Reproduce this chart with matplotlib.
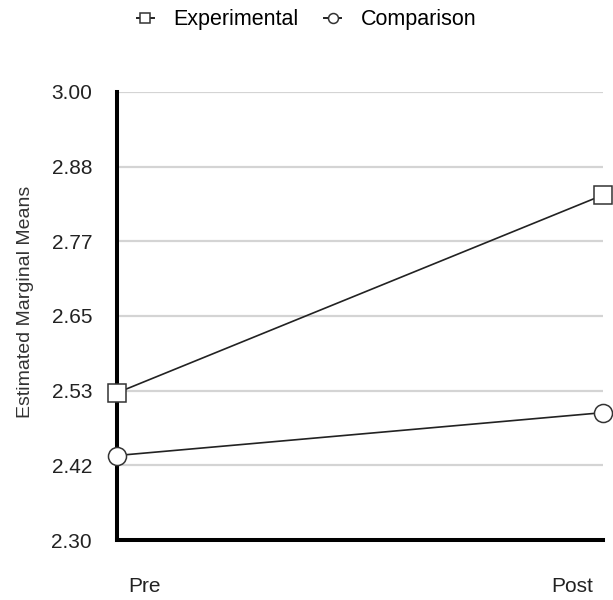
import matplotlib.pyplot as plt
import matplotlib.transforms as mtransforms

# data
time_labels = ['Pre', 'Post']
experimental = [2.53, 2.839]
comparison = [2.432, 2.499]
y_ticks = [2.30, 2.4167, 2.5333, 2.65, 2.7667, 2.8833, 3.00]

plt.rcParams['font.family'] = ['Liberation Sans', 'DejaVu Sans']

fig = plt.figure(figsize=(6.13, 6.00), dpi=100)
ax = fig.add_axes([0.1909, 0.1, 0.7928, 0.7467])

x = list(range(len(time_labels)))

ax.plot(x, experimental, color='#222222', lw=1.2, marker='s', markersize=12.5,
        markerfacecolor='white', markeredgecolor='#333333', markeredgewidth=1.1,
        clip_on=False, zorder=5, label='Experimental')
ax.plot(x, comparison, color='#222222', lw=1.2, marker='o', markersize=13,
        markerfacecolor='white', markeredgecolor='#333333', markeredgewidth=1.1,
        clip_on=False, zorder=5, label='Comparison')

ax.set_xlim(0, 1)
ax.set_ylim(2.30, 3.00)
ax.set_yticks(y_ticks)
ax.set_yticklabels([f'{v:.2f}' for v in y_ticks])
ax.set_xticks(x)
ax.set_xticklabels(time_labels)

# gridlines
ax.yaxis.grid(True, color='#d4d4d4', lw=1.6)
ax.set_axisbelow(True)

for s in ['top', 'right']:
    ax.spines[s].set_visible(False)
ax.spines['left'].set_linewidth(2.9)
ax.spines['bottom'].set_linewidth(2.9)
ax.spines['left'].set_zorder(4)

ax.tick_params(axis='both', length=0, labelsize=15, colors='#222222')
ax.tick_params(axis='y', pad=18)
ax.tick_params(axis='x', pad=27)

# x labels sit inside the axis ends
lbls = ax.get_xticklabels()
lbls[0].set_ha('left')
lbls[0].set_transform(lbls[0].get_transform() +
                      mtransforms.ScaledTranslation(0.11, 0, fig.dpi_scale_trans))
lbls[1].set_ha('right')
lbls[1].set_transform(lbls[1].get_transform() +
                      mtransforms.ScaledTranslation(-0.10, 0, fig.dpi_scale_trans))

ax.set_ylabel('Estimated Marginal Means', fontsize=14, color='#333333')
ax.yaxis.set_label_coords(-0.170, 0.531)

leg = fig.legend(loc='center', bbox_to_anchor=(0.5, 0.967), ncol=2, frameon=False,
                 fontsize=15.5, handlelength=0.8, markerscale=0.55, columnspacing=1.2,
                 handletextpad=0.9)
for h in leg.get_lines():
    h.set_linewidth(1.4)

fig.savefig('out.png', dpi=100)
